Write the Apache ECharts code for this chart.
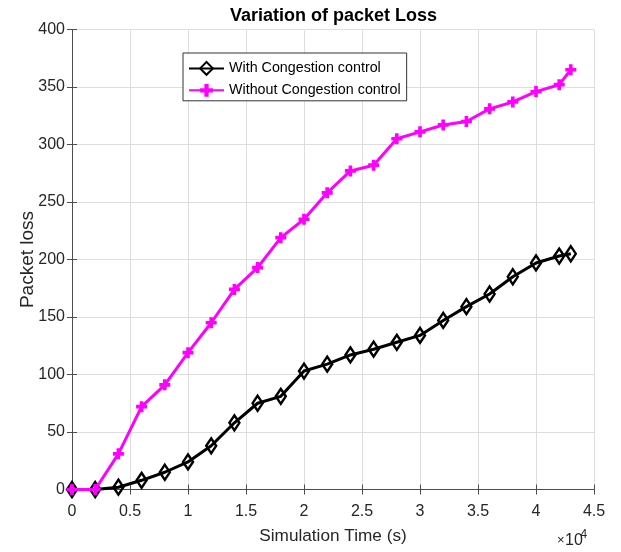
<!DOCTYPE html>
<html>
<head>
<meta charset="utf-8">
<script src="https://cdn.jsdelivr.net/npm/echarts@6/dist/echarts.min.js"></script>
<style>
  html, body { margin: 0; padding: 0; background: #fff; }
  #chart { width: 621px; height: 552px; }
</style>
</head>
<body>
<div id="chart"></div>
<script>
// Simulation time (s)
const simTime = [0, 2000, 4000, 6000, 8000, 10000, 12000, 14000, 16000, 18000, 20000,
  22000, 24000, 26000, 28000, 30000, 32000, 34000, 36000, 38000, 40000, 42000, 43000];
// Packet loss with congestion control
const withCongestion = [0, 0, 2, 8, 15, 24, 38, 58, 75, 81, 103, 109, 117, 122, 128, 134,
  147, 159, 170, 185, 197, 203, 205];
// Packet loss without congestion control
const withoutCongestion = [0, 0, 31, 72, 91, 119, 145, 174, 193, 219, 235, 258, 277, 282,
  305, 311, 317, 320, 331, 337, 346, 352, 365];
const xTickLabels = ['0', '0.5', '1', '1.5', '2', '2.5', '3', '3.5', '4', '4.5'];

const FONT = '"Liberation Sans", Arial, Helvetica, sans-serif';
const AX = '#4d4d4d';

const pair = (ys) => ys.map((y, i) => [simTime[i], y]);
const plusPath = 'path://M3,0h3v3h3v3h-3v3h-3v-3h-3v-3h3z';

const chart = echarts.init(document.getElementById('chart'), null, { renderer: 'canvas' });
chart.setOption({
  animation: false,
  backgroundColor: '#fff',
  title: {
    text: 'Variation of packet Loss',
    left: 225, top: 2.5,
    textStyle: { fontFamily: FONT, fontSize: 18, fontWeight: 'bold', color: '#000' }
  },
  legend: {
    left: 183, top: 53,
    orient: 'vertical',
    backgroundColor: '#fff',
    borderColor: '#333', borderWidth: 1,
    padding: [8, 6, 3.5, 5],
    itemGap: 7.5,
    itemWidth: 35, itemHeight: 16,
    textStyle: { fontFamily: FONT, fontSize: 14.3, color: '#000' },
    data: ['With Congestion control', 'Without Congestion control']
  },
  grid: { left: 72, top: 29.5, right: 27, bottom: 62.5, containLabel: false },
  xAxis: [{
    type: 'value', min: 0, max: 45000, interval: 5000, position: 'bottom',
    name: 'Simulation Time (s)', nameLocation: 'middle', nameGap: 38, nameMoveOverlap: false,
    nameTextStyle: { fontFamily: FONT, fontSize: 17.2, color: '#262626' },
    axisLine: { show: true, lineStyle: { color: AX, width: 1 } },
    axisTick: { show: true, inside: true, length: 5, lineStyle: { color: AX } },
    axisLabel: { margin: 14, fontFamily: FONT, fontSize: 16, color: '#262626',
      formatter: (v) => xTickLabels[Math.round(v / 5000)] },
    splitLine: { show: true, lineStyle: { color: '#dedede', width: 1 } }
  }, {
    type: 'value', min: 0, max: 45000, interval: 5000, position: 'top',
    axisLine: { show: true, lineStyle: { color: AX, width: 1 } },
    axisTick: { show: true, inside: true, length: 5, lineStyle: { color: AX } },
    axisLabel: { show: false }, splitLine: { show: false }
  }],
  yAxis: [{
    type: 'value', min: 0, max: 400, interval: 50, position: 'left',
    name: 'Packet loss', nameLocation: 'middle', nameGap: 35, nameMoveOverlap: false,
    nameTextStyle: { fontFamily: FONT, fontSize: 19, color: '#262626' },
    axisLine: { show: true, lineStyle: { color: AX, width: 1 } },
    axisTick: { show: true, inside: true, length: 5, lineStyle: { color: AX } },
    axisLabel: { margin: 7, fontFamily: FONT, fontSize: 16, color: '#262626' },
    splitLine: { show: true, lineStyle: { color: '#dedede', width: 1 } }
  }, {
    type: 'value', min: 0, max: 400, interval: 50, position: 'right',
    axisLine: { show: true, lineStyle: { color: AX, width: 1 } },
    axisTick: { show: true, inside: true, length: 5, lineStyle: { color: AX } },
    axisLabel: { show: false }, splitLine: { show: false }
  }],
  graphic: [
    { type: 'text', x: 557, y: 547,
      style: { text: '×', font: '13px "Liberation Sans", sans-serif', fill: '#262626',
        textAlign: 'left', textVerticalAlign: 'bottom' } },
    { type: 'text', x: 565, y: 548.5,
      style: { text: '10', font: '16px "Liberation Sans", sans-serif', fill: '#262626',
        textAlign: 'left', textVerticalAlign: 'bottom' } },
    { type: 'text', x: 580.5, y: 540.5,
      style: { text: '4', font: '12px "Liberation Sans", sans-serif', fill: '#262626',
        textAlign: 'left', textVerticalAlign: 'bottom' } }
  ],
  series: [{
    name: 'With Congestion control',
    type: 'line',
    data: pair(withCongestion),
    lineStyle: { color: '#000', width: 3 },
    symbol: 'diamond', symbolSize: [10, 15],
    itemStyle: { color: 'rgba(0,0,0,0)', borderColor: '#000', borderWidth: 2.5 },
    emphasis: { disabled: true },
    z: 2
  }, {
    name: 'Without Congestion control',
    type: 'line',
    data: pair(withoutCongestion),
    lineStyle: { color: '#ff00ff', width: 3 },
    symbol: plusPath, symbolSize: 11,
    itemStyle: { color: '#ff00ff', borderWidth: 0 },
    emphasis: { disabled: true },
    z: 3
  }]
});
</script>
</body>
</html>
